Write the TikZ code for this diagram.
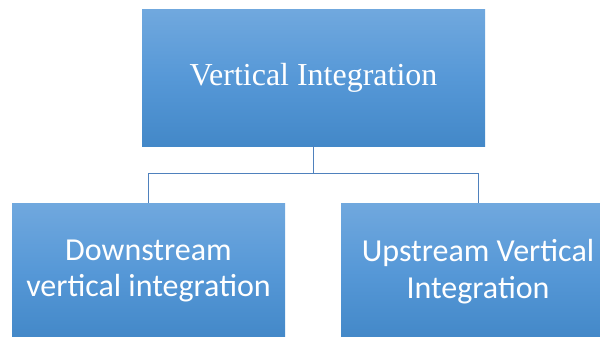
\documentclass[tikz,border=0pt]{standalone}
\usepackage{fontspec}
\setmainfont{Liberation Serif}
\newfontfamily\calibri{Carlito}
\usepackage{tikz}
\usetikzlibrary{positioning}

\definecolor{boxtop}{RGB}{112,168,222}
\definecolor{boxmid}{RGB}{86,152,215}
\definecolor{boxbot}{RGB}{67,136,200}
\definecolor{linkblue}{RGB}{79,129,189}

\begin{document}
\begin{tikzpicture}[
  every node/.style={rectangle, align=center, text=white, top color=boxtop, bottom color=boxbot, middle color=boxmid, minimum height=136pt, inner sep=0pt},
  link/.style={draw=linkblue, line width=1pt}
]
\clip (0,0) rectangle (600pt,-337pt);

% Level 1
\node[minimum width=343pt, font=\fontsize{32}{36}\selectfont] (vertint) at (313.5pt,-78pt) {Vertical Integration};

% Level 2
\node[below=57pt of vertint, xshift=-165pt, minimum width=273pt, font=\calibri\fontsize{32}{36}\selectfont] (downint) {Downstream\\vertical integration};
\node[below=57pt of vertint, xshift=164.5pt, minimum width=274pt, font=\calibri\fontsize{32}{37}\selectfont] (upint) {Upstream Vertical\\Integration};

% Connections
\draw[link] (downint.north) -- ++(0,30pt) -| (vertint.south);
\draw[link] (upint.north) -- ++(0,30pt) -| (vertint.south);

\end{tikzpicture}
\end{document}
